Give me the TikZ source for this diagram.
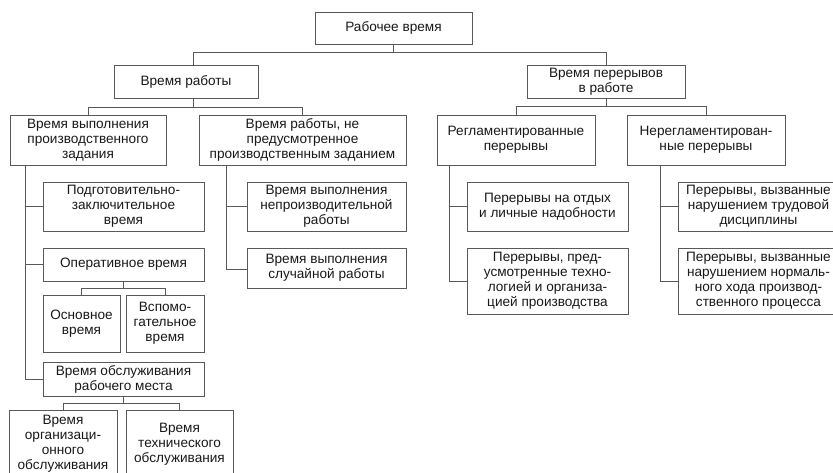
\documentclass[tikz,border=0pt]{standalone}
\usepackage{fontspec}
\setmainfont{Liberation Sans}
\begin{document}
\begin{tikzpicture}[x=1pt,y=-1pt,line width=0.9pt]
\tikzstyle{box}=[draw=black!65, fill=white, align=center, inner sep=0pt, text=black!90, font=\fontsize{13.6}{15}\selectfont]
\tikzstyle{link}=[draw=black!65]
\useasboundingbox (0,0) rectangle (833,473);
\clip (0,0) rectangle (833,473);

% top level
\node[box, minimum width=157, minimum height=32] (top) at (393.5,28) {Рабочее время};
\node[box, minimum width=144, minimum height=33] (work) at (186,81.5) {Время работы};
\node[box, minimum width=158, minimum height=33] (breaks) at (606,81.5) {Время перерывов\\в работе};

% second level
\node[box, minimum width=156, minimum height=50] (task) at (88,140) {Время выполнения\\производственного\\задания};
\node[box, minimum width=207, minimum height=50] (nontask) at (302.5,140) {Время работы, не\\предусмотренное\\производственным заданием};
\node[box, minimum width=158, minimum height=50] (reg) at (516,140) {Регламентированные\\перерывы};
\node[box, minimum width=158, minimum height=50] (nonreg) at (706,140) {Нерегламентирован-\\ные перерывы};

% production task
\node[box, minimum width=161, minimum height=49] (prep) at (123.5,206.5) {Подготовительно-\\заключительное\\время};
\node[box, minimum width=161, minimum height=33] (oper) at (123.5,264.5) {Оперативное время};
\node[box, minimum width=77, minimum height=57] (main) at (81.5,323.5) {Основное\\время};
\node[box, minimum width=78, minimum height=57] (aux) at (165,323.5) {Вспомо-\\гательное\\время};
\node[box, minimum width=161, minimum height=34] (serv) at (123.5,379) {Время обслуживания\\рабочего места};
\node[box, minimum width=108, minimum height=68] (org) at (63,444) {Время\\организаци-\\онного\\обслуживания};
\node[box, minimum width=107, minimum height=68] (tech) at (179.5,444) {Время\\технического\\обслуживания};

% work outside the task
\node[box, minimum width=159, minimum height=49] (unprod) at (326.5,206.5) {Время выполнения\\непроизводительной\\работы};
\node[box, minimum width=159, minimum height=40] (casual) at (326.5,268) {Время выполнения\\случайной работы};

% breaks
\node[box, minimum width=161, minimum height=49] (rest) at (547.5,206.5) {Перерывы на отдых\\и личные надобности};
\node[box, minimum width=161, minimum height=66] (techbr) at (547.5,281) {Перерывы, пред-\\усмотренные техно-\\логией и организа-\\цией производства};
\node[box, minimum width=161, minimum height=49] (disc) at (758.5,206.5) {Перерывы, вызванные\\нарушением трудовой\\дисциплины};
\node[box, minimum width=161, minimum height=66] (norm) at (758.5,281) {Перерывы, вызванные\\нарушением нормаль-\\ного хода производ-\\ственного процесса};

\draw[link] (top.south) -- ++(0,8) -| ([xshift=7]work.north);
\draw[link] (top.south) -- ++(0,8) -| (breaks.north);
\draw[link] ([xshift=7]work.south) -- ++(0,9) -| (task.north);
\draw[link] ([xshift=7]work.south) -- ++(0,9) -| (nontask.north);
\draw[link] (breaks.south) -- ++(0,8) -| (reg.north);
\draw[link] (breaks.south) -- ++(0,8) -| (nonreg.north);

\draw[link] ([xshift=16]task.south west) |- (prep.west);
\draw[link] ([xshift=16]task.south west) |- (oper.west);
\draw[link] ([xshift=16]task.south west) |- (serv.west);
\draw[link] (oper.south) -- ++(0,7) -| (main.north);
\draw[link] (oper.south) -- ++(0,7) -| (aux.north);
\draw[link] (serv.south) -- ++(0,7) -| (org.north);
\draw[link] (serv.south) -- ++(0,7) -| (tech.north);

\draw[link] ([xshift=28]nontask.south west) |- (unprod.west);
\draw[link] ([xshift=28]nontask.south west) |- ([yshift=-1]casual.west);

\draw[link] ([xshift=13]reg.south west) |- (rest.west);
\draw[link] ([xshift=13]reg.south west) |- (techbr.west);
\draw[link] ([xshift=34]nonreg.south west) |- (disc.west);
\draw[link] ([xshift=34]nonreg.south west) |- (norm.west);
\end{tikzpicture}
\end{document}
